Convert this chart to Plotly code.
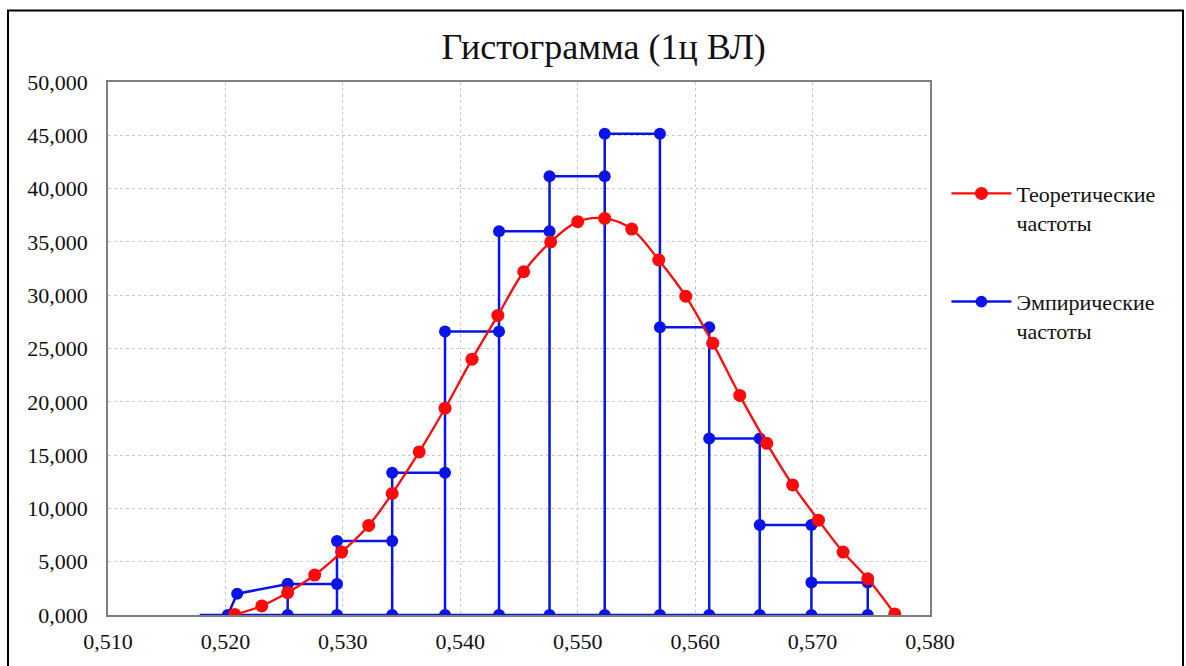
import plotly.graph_objects as go

# ---------------- data ----------------
x_ticks = [0.510, 0.520, 0.530, 0.540, 0.550, 0.560, 0.570, 0.580]
y_ticks = [0, 5, 10, 15, 20, 25, 30, 35, 40, 45, 50]

# Theoretical frequencies (red, smoothed line)
theo_x = [0.5208, 0.5231, 0.5253, 0.5276, 0.5299, 0.5322, 0.5342, 0.5365, 0.5387,
          0.5410, 0.5432, 0.5454, 0.5477, 0.5500, 0.5523, 0.5546, 0.5569, 0.5592,
          0.5615, 0.5638, 0.5661, 0.5683, 0.5705, 0.5726, 0.5747, 0.5770]
theo_y = [0.05, 0.85, 2.1, 3.75, 5.9, 8.4, 11.4, 15.3, 19.4, 24.0, 28.1, 32.2, 35.0,
          36.9, 37.2, 36.2, 33.3, 29.9, 25.5, 20.6, 16.1, 12.2, 8.9, 5.9, 3.4, 0.1]

# Empirical frequencies (blue step outline)
emp_first_x = [0.5202, 0.5210]          # irregular first bin
emp_first_y = [0.0, 2.0]
emp_edges = [0.5253, 0.5295, 0.5342, 0.5387, 0.5433, 0.5476, 0.5523,
             0.5570, 0.5612, 0.5655, 0.5699, 0.5747]
emp_heights = [2.9, 6.95, 13.35, 26.6, 36.0, 41.15, 45.15, 27.0, 16.55, 8.45, 3.05]
emp_baseline_start = 0.5178

# build the outline path
px = list(emp_first_x)
py = list(emp_first_y)
px += [emp_edges[0], emp_edges[0]]
py += [emp_heights[0], 0.0]
for i, h in enumerate(emp_heights):
    px += [emp_edges[i], emp_edges[i + 1], emp_edges[i + 1]]
    py += [h, h, 0.0]
px.append(emp_baseline_start)
py.append(0.0)
msizes = [12] * (len(px) - 1) + [0]

FONT = "Liberation Serif"
RED = "#ff0a0a"
BLUE = "#0a14e6"

fig = go.Figure()
fig.add_trace(go.Scatter(
    x=px, y=py, mode="lines+markers",
    name="Эмпирические<br>частоты",
    line=dict(color=BLUE, width=2.5),
    marker=dict(color=BLUE, size=msizes, opacity=1, line=dict(width=0)),
    legendgroup="b", legendrank=2,
))
fig.add_trace(go.Scatter(
    x=theo_x, y=theo_y, mode="lines+markers",
    name="Теоретические<br>частоты",
    line=dict(color=RED, width=2.3, shape="spline", smoothing=1.0),
    marker=dict(color=RED, size=13, opacity=1, line=dict(width=0)),
    legendgroup="a", legendrank=1,
))

axis_common = dict(
    showline=True, linecolor="#808080", linewidth=1.5, mirror=True,
    showgrid=True, gridcolor="#c8c8c8", griddash="3px,3px", gridwidth=1,
    zeroline=False, ticks="",
    tickfont=dict(family=FONT, size=22, color="#111"),
)

fig.update_layout(
    width=1186, height=666,
    margin=dict(l=108, r=256, t=82, b=40),
    paper_bgcolor="white", plot_bgcolor="white",
    separators=", ",
    title=dict(text="Гистограмма (1ц ВЛ)", x=0.509, xanchor="center",
               y=0.931, yanchor="middle",
               font=dict(family=FONT, size=36, color="#111")),
    font=dict(family=FONT, color="#111"),
    xaxis=dict(range=[0.510, 0.580], tickvals=x_ticks, tickformat=".3f",
               ticklabelstandoff=6, **axis_common),
    yaxis=dict(range=[0, 50], tickvals=y_ticks, tickformat=".3f",
               ticklabelstandoff=14, **axis_common),
    legend=dict(x=1.02, xanchor="left", y=0.83, yanchor="top",
                traceorder="grouped", tracegroupgap=48,
                valign="top", itemwidth=60,
                font=dict(family=FONT, size=22, color="#111"),
                bgcolor="rgba(0,0,0,0)"),
    shapes=[dict(type="rect", xref="paper", yref="paper",
                 x0=(8 - 108) / 822, x1=(1183 - 108) / 822,
                 y0=(626 - 700) / 544, y1=(626 - 9) / 544,
                 line=dict(color="black", width=2), layer="below")],
)

fig.write_html("out.html")
